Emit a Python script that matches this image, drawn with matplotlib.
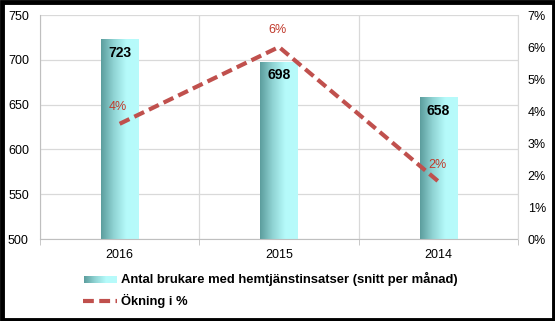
import matplotlib
matplotlib.use("Agg")
import matplotlib.pyplot as plt
import numpy as np
from matplotlib.patches import Rectangle
from matplotlib.colors import LinearSegmentedColormap
from matplotlib.ticker import FuncFormatter

plt.rcParams['font.family'] = ['Liberation Sans', 'DejaVu Sans']

years = ['2016', '2015', '2014']
brukare = [723, 698, 658]
okning = [3.6, 6.0, 1.8]
okning_labels = ['4%', '6%', '2%']
bar_name = 'Antal brukare med hemtjänstinsatser (snitt per månad)'
line_name = 'Ökning i %'

W, H = 555, 321
fig = plt.figure(figsize=(W / 100, H / 100), dpi=100)
fig.patch.set_facecolor('white')

cmap = LinearSegmentedColormap.from_list('teal', ['#5c9d9d', '#8fd3d3', '#b5fafa', '#b8fbfb'])
grad = np.linspace(0, 1, 256).reshape(1, -1)

ax = fig.add_axes([40 / W, (H - 239) / H, (518 - 40) / W, (239 - 15) / H])
x = np.arange(len(years))
bars = ax.bar(x, brukare, width=0.235, color='none', zorder=2)
ax.set_ylim(500, 750)
ax.set_xlim(-0.5, len(years) - 0.5)
for b, v in zip(bars, brukare):
    x0, w = b.get_x(), b.get_width()
    im = ax.imshow(grad, cmap=cmap, aspect='auto', extent=[x0, x0 + w, 500, v], zorder=2)
    im.set_clip_path(b)
    ax.annotate(str(v), (b.get_x() + w / 2, v), xytext=(0, -10), textcoords='offset points',
                ha='center', va='center', fontsize=10, fontweight='bold', color='black', zorder=5)
ax.set_xlim(-0.5, len(years) - 0.5)
ax.set_ylim(500, 750)
ax.set_yticks(np.arange(500, 751, 50))
ax.set_xticks(x)
ax.set_xticklabels(years)
ax.set_xticks(np.arange(-0.5, len(years), 1), minor=True)
ax.grid(axis='y', color='#d9d9d9', lw=0.9, zorder=0)
ax.grid(axis='x', which='minor', color='#d9d9d9', lw=0.9, zorder=0)
ax.tick_params(axis='x', which='major', length=0, pad=7, labelsize=9)
ax.tick_params(axis='x', which='minor', length=4, color='#bfbfbf')
ax.tick_params(axis='y', length=0, pad=8, labelsize=9)
for s in ['top', 'right']:
    ax.spines[s].set_visible(False)
for s in ['left', 'bottom']:
    ax.spines[s].set_color('#bfbfbf')

ax2 = ax.twinx()
ax2.plot(x, okning, ls=(0, (2.6, 1.3)), color='#c0504d', lw=3, zorder=4)
ax2.set_ylim(0, 7)
ax2.set_yticks(np.arange(0, 8, 1))
ax2.yaxis.set_major_formatter(FuncFormatter(lambda v, p: f'{int(v)}%'))
ax2.tick_params(axis='y', length=0, pad=7, labelsize=9)
for s in ['top', 'left', 'bottom']:
    ax2.spines[s].set_visible(False)
ax2.spines['right'].set_color('#d9d9d9')
for xi, v, lab in zip(x, okning, okning_labels):
    ax2.annotate(lab, (xi, v), xytext=(-1, 12), textcoords='offset points', ha='center',
                 va='center', fontsize=9, color='#c0392b')

# legend
lg = fig.add_axes([0, 0, 1, 1], facecolor='none')
lg.set_xlim(0, W)
lg.set_ylim(H, 0)
lg.axis('off')
lg.imshow(grad, cmap=cmap, aspect='auto', extent=[84, 117, 283, 276])
lg.plot([83, 117], [301, 301], ls=(0, (2.6, 1.3)), color='#c0504d', lw=3)
lg.text(121, 279, bar_name, fontsize=9.4, fontweight='bold', va='center', ha='left')
lg.text(121, 301, line_name, fontsize=9.4, fontweight='bold', va='center', ha='left')
lg.set_xlim(0, W)
lg.set_ylim(H, 0)

fig.patches.append(Rectangle((1.5 / W, 1.5 / H), 1 - 3 / W, 1 - 3 / H, transform=fig.transFigure,
                             fill=False, edgecolor='black', lw=3.5))

fig.savefig('out.png', dpi=100)
